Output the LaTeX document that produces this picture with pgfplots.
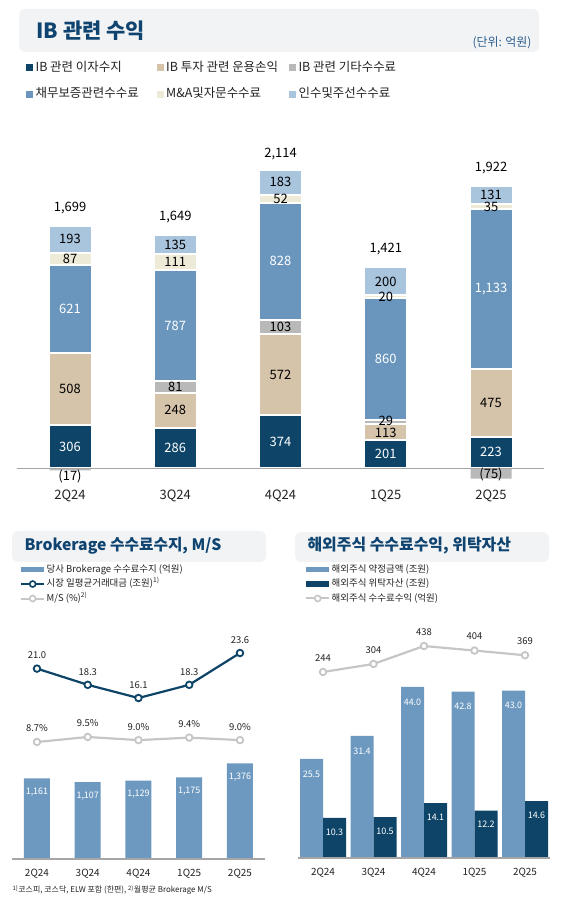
\documentclass[border=0pt]{standalone}
\usepackage{pgfplots}
\pgfplotsset{compat=1.18}
\usepackage{fontspec}
\setmainfont{Noto Sans CJK KR}
\definecolor{navy}{HTML}{0D4467}
\definecolor{tan}{HTML}{D5C3AA}
\definecolor{gry}{HTML}{B9B9B9}
\definecolor{steel}{HTML}{6A96BE}
\definecolor{cream}{HTML}{EEEAD8}
\definecolor{lblue}{HTML}{A9C4DD}
\definecolor{bblue}{HTML}{6D99C1}
\definecolor{lgray}{HTML}{C6C6C6}
\definecolor{hdr}{HTML}{F2F3F5}
\definecolor{ttl}{HTML}{0F4470}
\definecolor{unitc}{HTML}{2E5F90}
\definecolor{basegray}{HTML}{A6A6A6}
\definecolor{txt}{HTML}{222222}
\pgfplotsset{
  ovl/.style={scale only axis, clip=false, anchor=south west, xmin=-0.5, xmax=4.5,
    axis line style={draw=none}, ytick=\empty, xtick=\empty, major tick length=0pt,
    /pgf/number format/assume math mode=true, /pgf/number format/1000 sep={,}},
  sqleg/.style={legend image code/.code={\fill[##1,draw=none] (0bp,-3.5bp) rectangle (7bp,3.5bp); \path[draw=none,fill=none] (0bp,0bp) -- (8.5bp,0bp);}},
  barleg/.style={legend image code/.code={\fill[##1,draw=none] (0bp,-2.7bp) rectangle (23bp,2.7bp);}},
  lineleg/.style={legend image code/.code={\draw[mark repeat=2,mark phase=2,##1] plot coordinates {(0bp,0bp) (11.5bp,0bp) (23bp,0bp)};}},
}
\begin{document}
\begin{tikzpicture}
\path[use as bounding box] (0bp,0bp) rectangle (566bp,909bp);
% ---- headers
\fill[hdr, rounded corners=6bp] (19bp,857bp) rectangle (539bp,900bp);
\node[anchor=west, text=ttl, font=\fontsize{21}{24}\selectfont\bfseries] at (33bp,878bp) {IB 관련 수익};
\node[anchor=east, text=unitc, font=\fontsize{12}{14}\selectfont] at (535bp,866bp) {(단위: 억원)};
\fill[hdr, rounded corners=6bp] (12bp,347bp) rectangle (266bp,378bp);
\node[anchor=west, text=ttl, font=\fontsize{15.8}{18}\selectfont\bfseries] at (21bp,363bp) {Brokerage 수수료수지, M/S};
\fill[hdr, rounded corners=6bp] (295bp,347bp) rectangle (549bp,377bp);
\node[anchor=west, text=ttl, font=\fontsize{16}{18}\selectfont\bfseries] at (304bp,363bp) {해외주식 수수료수익, 위탁자산};
\node[anchor=west, text=txt, font=\fontsize{8}{10}\selectfont] at (9bp,19bp) {\textsuperscript{1)}코스피, 코스닥, ELW 포함 (한편), \textsuperscript{2)}월평균 Brokerage M/S};

% ---- top chart: stacked bars
\begin{axis}[ovl, at={(17.4bp,422.6bp)}, width=526.25bp, height=357.5bp,
  ymin=-130, ymax=2400, ybar stacked, bar width=43bp,
  xtick={0,1,2,3,4}, xticklabels={2Q24,3Q24,4Q24,1Q25,2Q25},
  xticklabel style={font=\fontsize{13}{15}\selectfont, text=txt},
  legend columns=3, legend cell align=left,
  legend style={at={(0.0162,1.19)}, anchor=north west, draw=none, fill=none, inner sep=0pt,
    font=\fontsize{12.5}{14}\selectfont, text=txt, row sep=13bp,
    /tikz/column 2/.style={column sep=17bp}, /tikz/column 4/.style={column sep=10bp},
    nodes={inner sep=1bp, text height=9bp, text depth=2.5bp}}]
\addplot[fill=navy, draw=white, line width=2bp, sqleg] coordinates {(0,306) (1,286) (2,374) (3,201) (4,223)};
\addlegendentry{IB 관련 이자수지}
\addplot[fill=tan, draw=white, line width=2bp, sqleg] coordinates {(0,508) (1,248) (2,572) (3,113) (4,475)};
\addlegendentry{IB 투자 관련 운용손익}
\addplot[fill=gry, draw=white, line width=2bp, sqleg] coordinates {(0,0) (1,81) (2,103) (3,29) (4,0)};
\addlegendentry{IB 관련 기타수수료}
\addplot[fill=steel, draw=white, line width=2bp, sqleg] coordinates {(0,621) (1,787) (2,828) (3,860) (4,1133)};
\addlegendentry{채무보증관련수수료}
\addplot[fill=cream, draw=white, line width=2bp, sqleg] coordinates {(0,87) (1,111) (2,52) (3,20) (4,35)};
\addlegendentry{M\&A및자문수수료}
\addplot[fill=lblue, draw=white, line width=2bp, sqleg] coordinates {(0,193) (1,135) (2,183) (3,200) (4,131)};
\addlegendentry{인수및주선수수료}
\end{axis}

% ---- top chart overlay: negative bars, baseline, labels
\begin{axis}[ovl, at={(17.4bp,422.6bp)}, width=526.25bp, height=357.5bp, ymin=-130, ymax=2400]
\addplot[ybar, bar width=41bp, bar shift=0pt, fill=gry, draw=none] coordinates {(0,-17) (4,-75)};
\addplot[basegray, line width=1bp] coordinates {(-0.5,0) (4.5,0)};
\addplot[only marks, mark=none, nodes near coords, point meta=explicit symbolic,
  every node near coord/.append style={anchor=center, font=\fontsize{13}{15}\selectfont, text=black}]
  table[x=x, y=y, meta=lab] {
x y lab
0 560 508
0 1478.5 87
0 1618.5 193
0 1842 1,699
0 -57 (17)
1 410 248
1 574.5 81
1 1457.5 111
1 1580.5 135
1 1776 1,649
2 660 572
2 997.5 103
2 1908 52
2 2022 183
2 2225 2,114
3 252 113
3 336 29
3 1212 20
3 1320 200
3 1550 1,421
4 460.5 475
4 1851 35
4 1935 131
4 2125 1,922
4 -45 (75)
};
\addplot[only marks, mark=none, nodes near coords, point meta=explicit symbolic,
  every node near coord/.append style={anchor=center, font=\fontsize{13}{15}\selectfont, text=white}]
  table[x=x, y=y, meta=lab] {
x y lab
0 153 306
0 1124.5 621
1 143 286
1 1008.5 787
2 187 374
2 1463 828
3 100.5 201
3 773 860
4 111.5 223
4 1264.5 1,133
};
\end{axis}

% ---- bottom left: brokerage bars
\begin{axis}[ovl, at={(11.6bp,50bp)}, width=253.75bp, height=240bp, ymin=0, ymax=3453,
  xtick={0,1,2,3,4}, xticklabels={2Q24,3Q24,4Q24,1Q25,2Q25},
  xticklabel style={font=\fontsize{10}{12}\selectfont, text=txt, yshift=-7bp},
  legend cell align=left,
  legend style={at={(0.033,1.233)}, anchor=north west, draw=none, fill=none, inner sep=0pt,
    font=\fontsize{9.5}{11}\selectfont, text=txt, row sep=2bp,
    nodes={inner sep=1.5bp, text height=7.5bp, text depth=2bp}}]
\addplot[ybar, bar width=26bp, bar shift=0pt, fill=bblue, draw=none, barleg, nodes near coords,
  every node near coord/.append style={anchor=center, yshift=-14bp, text=white, font=\fontsize{9}{10}\selectfont}]
  coordinates {(0,1161) (1,1107) (2,1129) (3,1175) (4,1376)};
\addlegendentry{당사 Brokerage 수수료수지 (억원)}
\addlegendimage{lineleg, navy, line width=2bp, mark=*, mark size=3bp, mark options={fill=white, draw=navy, line width=1.6bp}}
\addlegendentry{시장 일평균거래대금 (조원)\textsuperscript{1)}}
\addlegendimage{lineleg, lgray, line width=2bp, mark=*, mark size=3bp, mark options={fill=white, draw=lgray, line width=1.6bp}}
\addlegendentry{M/S (\%)\textsuperscript{2)}}
\addplot[basegray, line width=1.2bp, forget plot] coordinates {(-0.5,0) (4.5,0)};
\end{axis}
\begin{axis}[ovl, at={(11.6bp,50bp)}, width=253.75bp, height=240bp, ymin=-10.73, ymax=29.27]
\addplot[navy, line width=2.2bp, mark=*, mark size=3.3bp, mark options={fill=white, draw=navy, line width=1.8bp},
  nodes near coords={\pgfmathprintnumber[fixed,fixed zerofill,precision=1]{\pgfplotspointmeta}},
  every node near coord/.append style={anchor=center, yshift=13bp, text=txt, font=\fontsize{9.5}{11}\selectfont}]
  coordinates {(0,21.0) (1,18.3) (2,16.1) (3,18.3) (4,23.6)};
\end{axis}
\begin{axis}[ovl, at={(11.6bp,50bp)}, width=253.75bp, height=240bp, ymin=-10.02, ymax=28.38]
\addplot[lgray, line width=2.2bp, mark=*, mark size=3.3bp, mark options={fill=white, draw=lgray, line width=1.8bp},
  nodes near coords={\pgfmathprintnumber[fixed,fixed zerofill,precision=1]{\pgfplotspointmeta}\%},
  every node near coord/.append style={anchor=center, yshift=13.5bp, text=txt, font=\fontsize{9.5}{11}\selectfont}]
  coordinates {(0,8.7) (1,9.5) (2,9.0) (3,9.4) (4,9.0)};
\end{axis}

% ---- bottom right: overseas stocks
\begin{axis}[ovl, at={(297.75bp,51bp)}, width=252.5bp, height=240bp, ymin=0, ymax=61.7,
  xtick={0,1,2,3,4}, xticklabels={2Q24,3Q24,4Q24,1Q25,2Q25},
  xticklabel style={font=\fontsize{10}{12}\selectfont, text=txt, yshift=-7bp},
  legend cell align=left,
  legend style={at={(0.0287,1.229)}, anchor=north west, draw=none, fill=none, inner sep=0pt,
    font=\fontsize{9.5}{11}\selectfont, text=txt, row sep=2bp,
    nodes={inner sep=1.5bp, text height=7.5bp, text depth=2bp}}]
\addplot[ybar, bar width=23bp, bar shift=-11.5bp, fill=bblue, draw=none, barleg,
  nodes near coords={\pgfmathprintnumber[fixed,fixed zerofill,precision=1]{\pgfplotspointmeta}},
  every node near coord/.append style={anchor=center, xshift=-11.5bp, yshift=-15bp, text=white, font=\fontsize{9}{10}\selectfont}]
  coordinates {(0,25.5) (1,31.4) (2,44.0) (3,42.8) (4,43.0)};
\addlegendentry{해외주식 약정금액 (조원)}
\addplot[ybar, bar width=23bp, bar shift=11.5bp, fill=navy, draw=none, barleg,
  nodes near coords={\pgfmathprintnumber[fixed,fixed zerofill,precision=1]{\pgfplotspointmeta}},
  every node near coord/.append style={anchor=center, xshift=11.5bp, yshift=-14bp, text=white, font=\fontsize{9}{10}\selectfont}]
  coordinates {(0,10.3) (1,10.5) (2,14.1) (3,12.2) (4,14.6)};
\addlegendentry{해외주식 위탁자산 (조원)}
\addlegendimage{lineleg, lgray, line width=2bp, mark=*, mark size=3bp, mark options={fill=white, draw=lgray, line width=1.6bp}}
\addlegendentry{해외주식 수수료수익 (억원)}
\addplot[basegray, line width=1.2bp, forget plot] coordinates {(-0.5,0) (4.5,0)};
\end{axis}
\begin{axis}[ovl, at={(297.75bp,51bp)}, width=252.5bp, height=240bp, ymin=-1144, ymax=647]
\addplot[lgray, line width=2.2bp, mark=*, mark size=3.3bp, mark options={fill=white, draw=lgray, line width=1.8bp},
  nodes near coords,
  every node near coord/.append style={anchor=center, yshift=14bp, text=txt, font=\fontsize{9.5}{11}\selectfont}]
  coordinates {(0,244) (1,304) (2,438) (3,404) (4,369)};
\end{axis}
\end{tikzpicture}
\end{document}
